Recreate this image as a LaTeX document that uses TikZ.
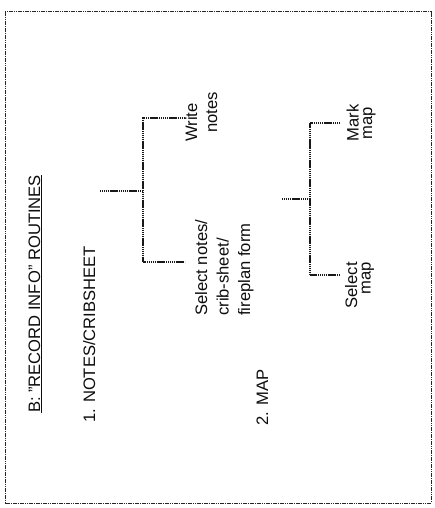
\documentclass[tikz,border=0pt]{standalone}
\usepackage{fontspec}
\setmainfont{Liberation Sans}
\begin{document}
\begin{tikzpicture}[x=1pt,y=-1pt,
  lbl/.style={rotate=90,inner sep=0pt,text=black!95,font=\fontsize{16.6pt}{20pt}\selectfont},
  branch/.style={draw=black!90,line width=1.2pt,dash pattern=on 1.3pt off 0.6pt},
  frame/.style={draw=black!85,line width=1pt,dash pattern=on 1.6pt off 0.7pt}]
\useasboundingbox (0,0) rectangle (434,508);
\draw[frame] (5,12) rectangle (431,503);
% texts
\node[lbl,anchor=base] (title) at (40,294) {\underline{B: "RECORD INFO" ROUTINES}};
\node[lbl,anchor=base] (notes) at (95,334.5) {1. NOTES/CRIBSHEET};
\node[lbl,anchor=base] (map) at (268,397.5) {2. MAP};
\node[lbl,anchor=north west,align=left] (write) at (185,142) {Write\\\hspace*{9pt}notes};
\node[lbl,anchor=north west,align=left,font=\fontsize{16.6pt}{21.5pt}\selectfont] (select) at (195,316) {Select notes/\\crib-sheet/\\fireplan form};
\node[lbl,align=center,font=\fontsize{16.6pt}{13.5pt}\selectfont] (mark) at (361,123) {Mark\\map};
\node[lbl,anchor=north east,align=right,font=\fontsize{16.6pt}{13.5pt}\selectfont] (selmap) at (345,262) {Select\\map};
% tree 1
\coordinate (r1) at (100,191);
\coordinate (j1) at (143,191);
\coordinate (a1) at (143,118);
\coordinate (b1) at (143,262);
\coordinate (ae1) at (185,118);
\coordinate (be1) at (185,262);
\draw[branch] (r1) -- (j1);
\draw[branch] (ae1) -- (a1) -- (b1) -- (be1);
% tree 2
\coordinate (r2) at (282,199);
\coordinate (j2) at (310,199);
\coordinate (a2) at (310,123);
\coordinate (b2) at (310,275);
\coordinate (ae2) at (340,123);
\coordinate (be2) at (340,275);
\draw[branch] (r2) -- (j2);
\draw[branch] (ae2) -- (a2) -- (b2) -- (be2);
\end{tikzpicture}
\end{document}
